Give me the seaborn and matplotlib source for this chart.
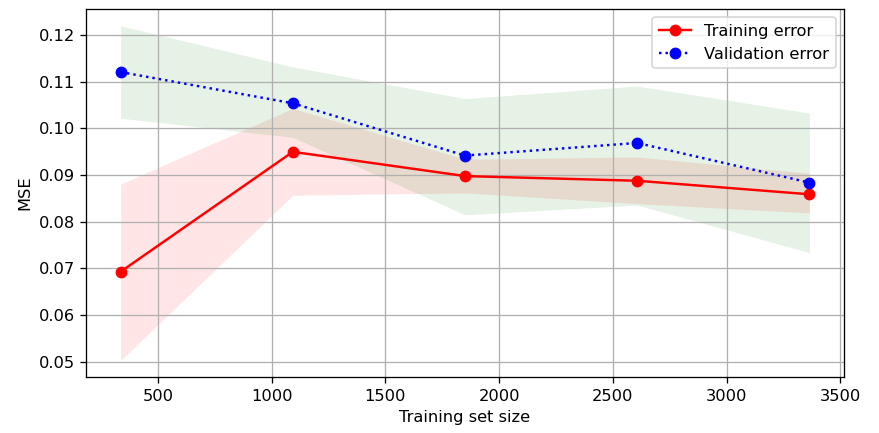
import numpy as np
import pandas as pd
import matplotlib
matplotlib.use("Agg")
import matplotlib.pyplot as plt
import seaborn as sns

# learning curve values
train_sizes = [336, 1093, 1850, 2607, 3364]
train_mse = [0.0693, 0.0950, 0.0898, 0.0888, 0.0859]
train_low = [0.0503, 0.0857, 0.0862, 0.0839, 0.0819]
train_high = [0.0881, 0.1043, 0.0934, 0.0939, 0.0904]
val_mse = [0.1121, 0.1054, 0.0942, 0.0969, 0.0884]
val_low = [0.1022, 0.0981, 0.0815, 0.0836, 0.0734]
val_high = [0.1220, 0.1132, 0.1064, 0.1091, 0.1033]

df = pd.DataFrame({
    "size": train_sizes,
    "train": train_mse,
    "val": val_mse,
})

DPI = 117
fig, ax = plt.subplots(figsize=(879 / DPI, 433 / DPI), dpi=DPI)
fig.subplots_adjust(left=0.098, right=0.960, top=0.979, bottom=0.129)

ax.fill_between(train_sizes, train_low, train_high, color="r", alpha=0.1, linewidth=0)
ax.fill_between(train_sizes, val_low, val_high, color="g", alpha=0.1, linewidth=0)

sns.lineplot(data=df, x="size", y="train", ax=ax, color="r", marker="o",
             markersize=6.5, markeredgecolor="r", linestyle="-",
             label="Training error")
sns.lineplot(data=df, x="size", y="val", ax=ax, color="b", marker="o",
             markersize=6.5, markeredgecolor="b", linestyle=":",
             label="Validation error")

ax.set_xlabel("Training set size")
ax.set_ylabel("MSE")
ax.set_xticks([500, 1000, 1500, 2000, 2500, 3000, 3500])
ax.set_yticks([0.05, 0.06, 0.07, 0.08, 0.09, 0.10, 0.11, 0.12])
ax.yaxis.set_major_formatter(matplotlib.ticker.FormatStrFormatter("%.2f"))
ax.grid(True)
ax.legend(loc="upper right")

fig.savefig("out.png", dpi=DPI)
